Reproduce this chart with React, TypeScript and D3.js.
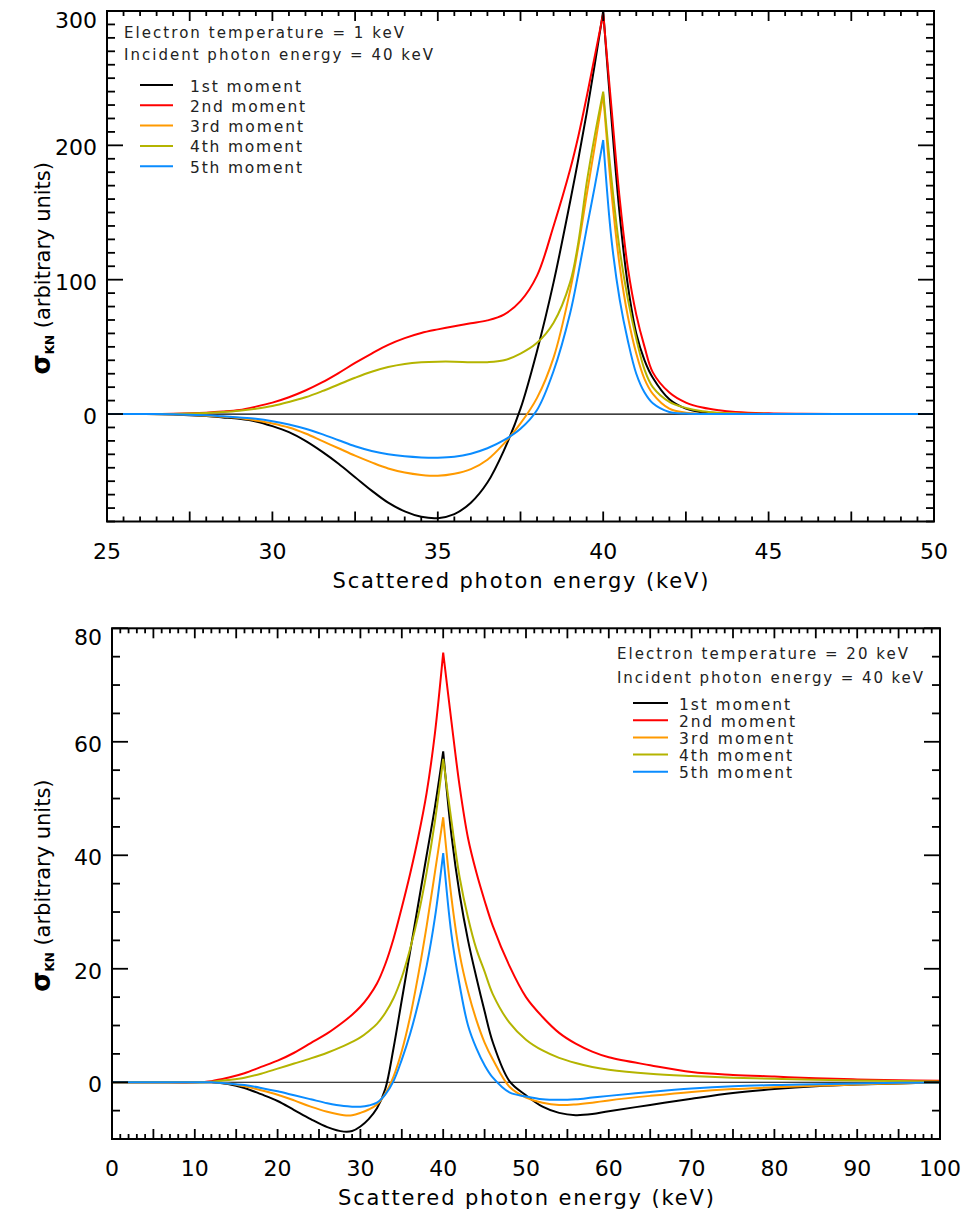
import React from "react";
import * as d3 from "d3";

// ---------- DATA ----------
const seriesNames = ["1st moment", "2nd moment", "3rd moment", "4th moment", "5th moment"];
const seriesColors = ["#000000", "#ff0000", "#ff9a00", "#b4b400", "#0a8cff"];

// Top panel: Te = 1 keV
const energyTop = [25, 26, 27, 28, 28.5, 29, 29.5, 30, 30.5, 31, 31.5, 32, 32.5, 33, 33.5, 34, 34.5, 35, 35.5, 36, 36.5, 37, 37.5, 38, 38.5, 39, 39.25, 39.5, 39.75, 40, 40.25, 40.5, 40.75, 41, 41.25, 41.5, 42, 42.5, 43, 43.5, 44, 45, 46, 47, 48, 50];
const top1st = [0, 0, -0.3, -1.5, -2.5, -3.6, -5.5, -9, -13.5, -20, -28, -37, -47, -57, -66, -72.5, -76.5, -77.5, -74.5, -66, -51, -27, 4, 47, 98, 158, 190, 224, 261, 300, 220, 148, 95, 60, 40, 27, 11, 4, 1.2, 0.3, 0.1, 0, 0, 0, 0, 0];
const top2nd = [0, 0, 0.2, 1, 1.8, 3, 5.5, 8.5, 12.5, 17.5, 23.5, 30.5, 38, 45, 51.5, 56.5, 60.3, 63, 65.4, 67.5, 69.7, 74, 84, 103, 140, 182, 207, 236, 267, 298, 228, 160, 108, 74, 50, 31, 16, 8.5, 4.8, 2.8, 1.6, 0.5, 0.15, 0.05, 0, 0];
const top3rd = [0, 0, -0.2, -1.2, -2, -3, -4.8, -7, -10, -14.5, -20, -25.5, -31, -36, -40.5, -43.5, -45.3, -46, -44.5, -41, -34, -22, -7, 12, 42, 92, 125, 163, 200, 238, 165, 110, 72, 45, 26, 15, 4, 1, 0.2, 0, 0, 0, 0, 0, 0, 0];
const top4th = [0, 0, 0.1, 0.8, 1.5, 2.5, 4, 6, 9, 12.5, 17, 22, 27, 31.5, 35, 37.3, 38.5, 39, 39, 38.6, 38.6, 40, 45, 53, 68, 98, 128, 172, 208, 240, 175, 122, 85, 56, 33, 20, 9, 4.5, 2, 0.9, 0.4, 0.1, 0, 0, 0, 0];
const top5th = [0, 0, -0.1, -1, -1.7, -2.5, -3.5, -5.3, -7.8, -11, -15, -19.5, -24, -27.5, -30, -31.5, -32.3, -32.5, -31.8, -29.5, -25.5, -19.5, -11, 3, 32, 75, 105, 138, 170, 204, 130, 85, 54, 30, 16, 8, 1.5, 0.3, 0, 0, 0, 0, 0, 0, 0, 0];

// Bottom panel: Te = 20 keV
const energyBottom = [0, 5, 10, 12, 14, 16, 18, 20, 22, 24, 26, 28, 29, 30, 31, 32, 33, 34, 35, 36, 37, 38, 39, 40, 41, 42, 43, 44, 45, 46, 48, 50, 52, 54, 56, 58, 60, 65, 70, 75, 80, 85, 90, 95, 100];
const bot1st = [0, 0, 0, 0, -0.3, -1, -2.1, -3.3, -4.9, -6.5, -7.9, -8.7, -8.6, -7.8, -6.5, -4.6, -1.2, 6, 14.5, 23, 31.5, 40, 48.5, 58.3, 43.5, 33, 25, 18.5, 12.5, 7, 0.2, -2.3, -4.3, -5.4, -5.8, -5.6, -5.1, -4, -2.9, -1.9, -1.2, -0.7, -0.4, -0.2, -0.1];
const bot2nd = [0, 0, 0, 0.2, 0.8, 1.6, 2.7, 3.8, 5.2, 6.9, 8.6, 10.7, 11.9, 13.3, 15.1, 17.4, 20.8, 25.3, 30.8, 36.7, 43.3, 51, 61.5, 75.7, 63.5, 52, 43, 37, 32, 27.5, 20.5, 15, 11.5, 8.7, 6.8, 5.4, 4.4, 3, 1.8, 1.3, 1.0, 0.7, 0.5, 0.35, 0.25];
const bot3rd = [0, 0, 0, 0, -0.2, -0.7, -1.4, -2.2, -3.2, -4.3, -5.2, -5.8, -5.8, -5.4, -4.8, -3.9, -2, 1, 5.5, 11.5, 19, 27.5, 37, 46.7, 32.5, 22.5, 16, 11, 7, 4, -0.8, -2.7, -3.6, -4, -3.9, -3.6, -3.2, -2.4, -1.7, -1.2, -0.9, -0.6, -0.4, -0.2, -0.1];
const bot4th = [0, 0, 0, 0.1, 0.4, 0.8, 1.5, 2.4, 3.3, 4.2, 5.2, 6.4, 7.1, 7.9, 9, 10.3, 12.2, 14.8, 18.5, 23.5, 29.5, 37, 46, 57, 46, 36, 29, 23.5, 19.5, 15.5, 10.5, 7.5, 5.6, 4.3, 3.4, 2.7, 2.2, 1.5, 1.1, 0.8, 0.6, 0.45, 0.3, 0.2, 0.15];
const bot5th = [0, 0, 0, 0, -0.2, -0.5, -1, -1.6, -2.3, -3, -3.7, -4.2, -4.3, -4.3, -4.1, -3.6, -2.2, 0.2, 4, 8.5, 14, 20.5, 29, 40.4, 26, 17, 10, 6, 3, 0.8, -1.8, -2.5, -3, -3.1, -3, -2.7, -2.4, -1.7, -1.1, -0.7, -0.5, -0.35, -0.2, -0.1, -0.05];

const topInfo = ["Electron temperature = 1 keV", "Incident photon energy = 40 keV"];
const bottomInfo = ["Electron temperature = 20 keV", "Incident photon energy = 40 keV"];
const xTitle = "Scattered photon energy (keV)";
const peakEnergy = 40;

const FONT = "'DejaVu Sans', Verdana, sans-serif";

type PanelProps = {
  energies: number[];
  series: number[][];
  xDomain: [number, number];
  yDomain: [number, number];
  box: { l: number; r: number; t: number; b: number };
  xMajor: number;
  xMinor: number;
  xLabelStep: number;
  yMajor: number;
  yMinor: number;
  info: string[];
  infoX: number;
  infoY: number[];
  infoLen: number[];
  legX: number[];
  legY0: number;
  legDy: number;
  legTextX: number;
  legLen: number[];
  id: string;
};

function rng(a: number, b: number, s: number) {
  const out: number[] = [];
  const n = Math.round((b - a) / s);
  for (let i = 0; i <= n; i++) out.push(+(a + i * s).toFixed(6));
  return out;
}

function Panel(p: PanelProps) {
  const { box } = p;
  const x = d3.scaleLinear().domain(p.xDomain).range([box.l, box.r]);
  const y = d3.scaleLinear().domain(p.yDomain).range([box.b, box.t]);
  const line = d3
    .line<[number, number]>()
    .x((d) => x(d[0]))
    .y((d) => y(d[1]))
    .curve(d3.curveCatmullRom.alpha(0.5));

  const xMinorTicks = rng(p.xDomain[0], p.xDomain[1], p.xMinor);
  const isMult = (v: number, s: number) => Math.abs(v / s - Math.round(v / s)) < 1e-6;
  const yMinorTicks = rng(Math.ceil(p.yDomain[0] / p.yMinor) * p.yMinor, p.yDomain[1], p.yMinor);
  const xLabels = rng(p.xDomain[0], p.xDomain[1], p.xLabelStep);
  const yLabels = rng(Math.ceil(p.yDomain[0] / p.yMajor) * p.yMajor, p.yDomain[1], p.yMajor);

  const paths = p.series.map((vals) => {
    const pts: [number, number][] = p.energies.map((e, i) => [e, vals[i]]);
    const left = pts.filter((d) => d[0] <= peakEnergy);
    const right = pts.filter((d) => d[0] >= peakEnergy);
    return (line(left) || "") + (line(right) || "");
  });

  const cy = (box.t + box.b) / 2;
  const cx = (box.l + box.r) / 2;

  return (
    <g>
      <defs>
        <clipPath id={p.id}>
          <rect x={box.l} y={box.t} width={box.r - box.l} height={box.b - box.t} />
        </clipPath>
      </defs>
      <line x1={box.l} x2={box.r} y1={y(0)} y2={y(0)} stroke="#000" strokeWidth={1.2} />
      <g clipPath={`url(#${p.id})`}>
        {paths.map((d, i) => (
          <path key={i} d={d} fill="none" stroke={seriesColors[i]} strokeWidth={2} strokeLinejoin="miter" />
        ))}
      </g>
      <rect x={box.l} y={box.t} width={box.r - box.l} height={box.b - box.t} fill="none" stroke="#000" strokeWidth={2} />
      {xMinorTicks.map((v, i) => {
        const len = isMult(v, p.xMajor) ? 10 : 5;
        const xx = x(v);
        return (
          <g key={"xt" + i}>
            <line x1={xx} x2={xx} y1={box.b} y2={box.b - len} stroke="#000" strokeWidth={1.8} />
            <line x1={xx} x2={xx} y1={box.t} y2={box.t + len} stroke="#000" strokeWidth={1.8} />
          </g>
        );
      })}
      {yMinorTicks.map((v, i) => {
        const len = isMult(v, p.yMajor) ? 16 : 8;
        const yy = y(v);
        return (
          <g key={"yt" + i}>
            <line x1={box.l} x2={box.l + len} y1={yy} y2={yy} stroke="#000" strokeWidth={1.8} />
            <line x1={box.r} x2={box.r - len} y1={yy} y2={yy} stroke="#000" strokeWidth={1.8} />
          </g>
        );
      })}
      {xLabels.map((v, i) => (
        <text key={"xl" + i} x={x(v)} y={box.b + 37} textAnchor="middle" fontFamily={FONT} fontSize={22}>
          {String(v)}
        </text>
      ))}
      {yLabels.map((v, i) => {
        const c = Math.max(y(v) + 2, box.t + 9);
        return (
          <text key={"yl" + i} x={box.l - 10} y={c} dy="0.36em" textAnchor="end" fontFamily={FONT} fontSize={22}>
            {String(v)}
          </text>
        );
      })}
      <text x={cx} y={box.b + 66} textAnchor="middle" fontFamily={FONT} fontSize={21} textLength={376} lengthAdjust="spacing">
        {xTitle}
      </text>
      <text transform={`translate(50, ${cy + 2}) rotate(-90)`} textAnchor="middle" fontFamily={FONT} fontSize={21}>
        <tspan fontWeight="bold" fontSize={26}>σ</tspan>
        <tspan fontSize={12} fontWeight="bold" dy={4}>KN</tspan>
        <tspan dy={-4}>{" (arbitrary units)"}</tspan>
      </text>
      {p.info.map((t, i) => (
        <text key={"in" + i} x={p.infoX} y={p.infoY[i]} fontFamily={FONT} fontSize={15} fill="#222" textLength={p.infoLen[i]} lengthAdjust="spacing">
          {t}
        </text>
      ))}
      {seriesNames.map((n, i) => {
        const ly = p.legY0 + i * p.legDy;
        return (
          <g key={"lg" + i}>
            <line x1={p.legX[0]} x2={p.legX[1]} y1={ly} y2={ly} stroke={seriesColors[i]} strokeWidth={2} />
            <text x={p.legTextX} y={ly + 6.5} fontFamily={FONT} fontSize={15.5} fill="#222" textLength={p.legLen[i]} lengthAdjust="spacing">
              {n}
            </text>
          </g>
        );
      })}
    </g>
  );
}

export default function App() {
  return (
    <svg width={968} height={1215} style={{ position: "absolute", left: 0, top: 0, background: "#fff" }}>
      <rect x={0} y={0} width={968} height={1215} fill="#fff" />
      <Panel
        id="clipTop"
        energies={energyTop}
        series={[top1st, top2nd, top3rd, top4th, top5th]}
        xDomain={[25, 50]}
        yDomain={[-80, 300]}
        box={{ l: 107, r: 934, t: 11, b: 521.5 }}
        xMajor={2.5}
        xMinor={0.5}
        xLabelStep={5}
        yMajor={100}
        yMinor={10}
        info={topInfo}
        infoX={124}
        infoY={[37.5, 59.5]}
        infoLen={[280, 309]}
        legX={[140, 173]}
        legY0={85}
        legDy={20.3}
        legTextX={190}
        legLen={[111, 115, 113, 112, 112]}
      />
      <Panel
        id="clipBot"
        energies={energyBottom}
        series={[bot1st, bot2nd, bot3rd, bot4th, bot5th]}
        xDomain={[0, 100]}
        yDomain={[-10, 80]}
        box={{ l: 112, r: 940, t: 628.3, b: 1139 }}
        xMajor={5}
        xMinor={1}
        xLabelStep={10}
        yMajor={20}
        yMinor={5}
        info={bottomInfo}
        infoX={617}
        infoY={[659.3, 682.7]}
        infoLen={[291, 306]}
        legX={[633, 668]}
        legY0={703}
        legDy={17.2}
        legTextX={679}
        legLen={[111, 116, 114, 113, 113]}
      />
    </svg>
  );
}
